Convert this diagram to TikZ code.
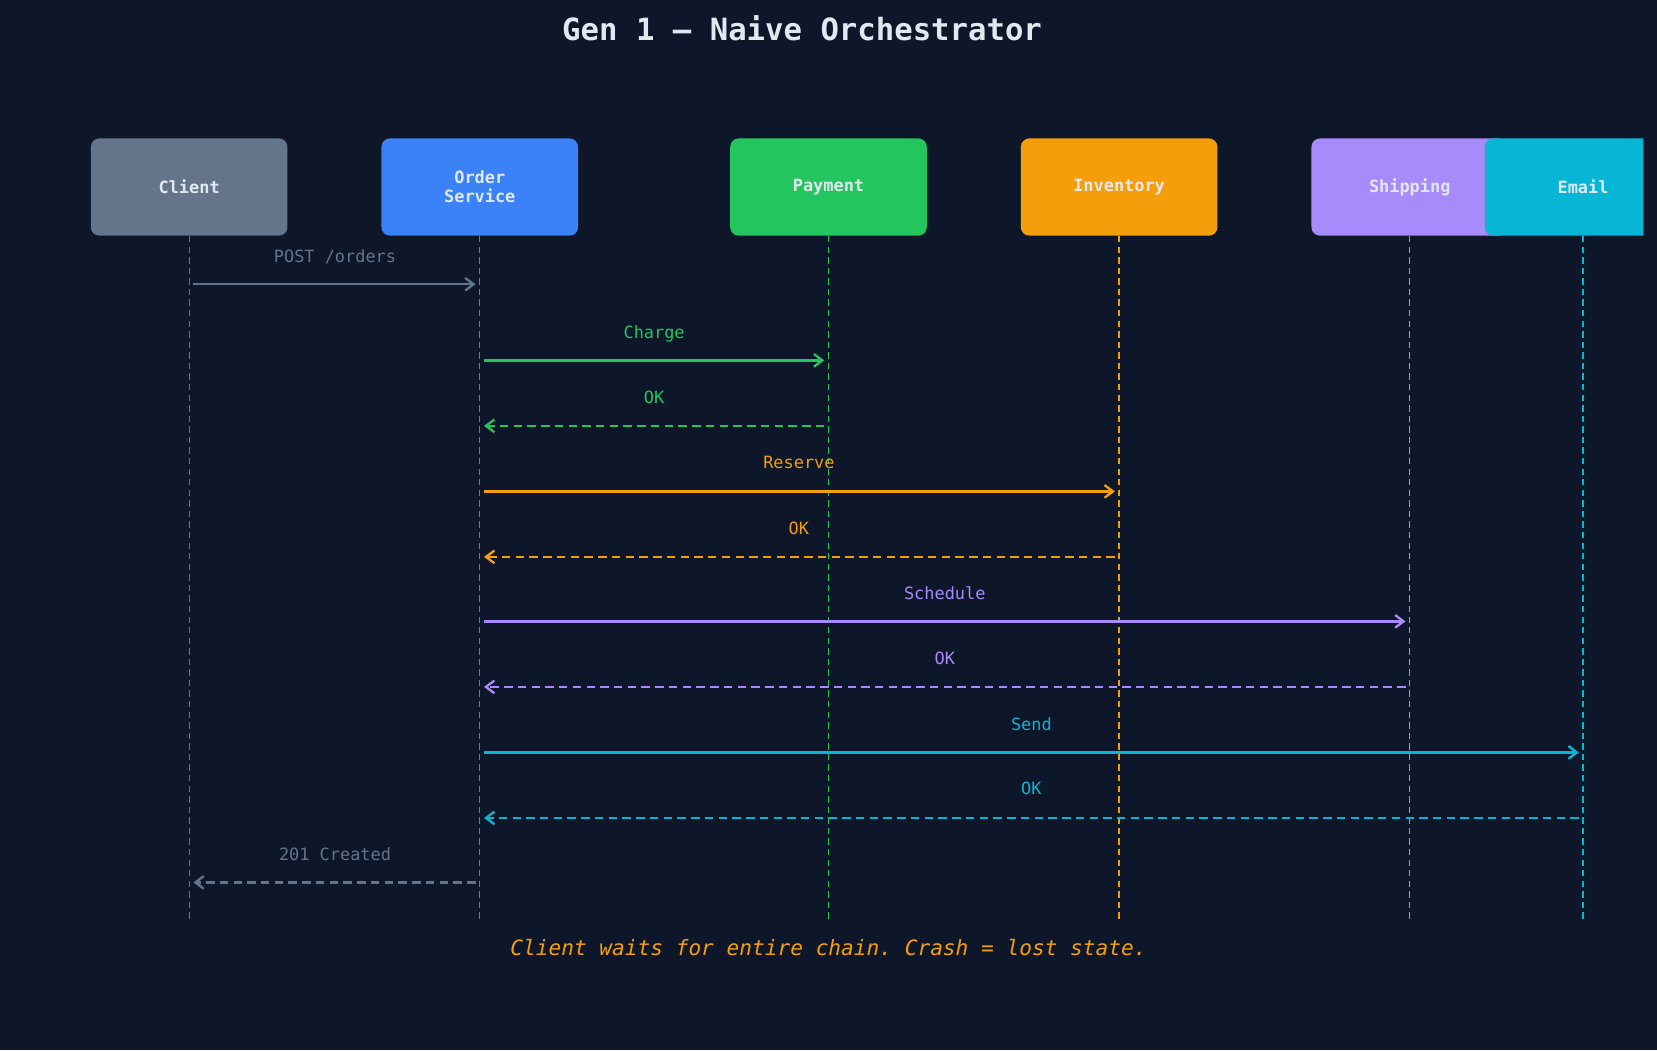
\documentclass[tikz,border=0pt]{standalone}
\usepackage{fontspec}
\setmonofont{DejaVu Sans Mono}
\usetikzlibrary{arrows.meta}
\definecolor{bg}{HTML}{0E1629}
\definecolor{cgray}{HTML}{64748B}
\definecolor{cblue}{HTML}{3B82F6}
\definecolor{cgreen}{HTML}{22C55E}
\definecolor{corange}{HTML}{F59E0B}
\definecolor{cpurple}{HTML}{A78BFA}
\definecolor{ccyan}{HTML}{06B6D4}
\definecolor{ctext}{HTML}{E2E8F0}
\begin{document}
\begin{tikzpicture}[x=0.5pt,y=-0.5pt,
  box/.style={rounded corners=4pt,minimum width=93pt,minimum height=46pt,inner sep=0pt,text=ctext,font=\ttfamily\bfseries\fontsize{8}{9}\selectfont,align=center},
  life/.style={dashed,line width=0.6pt,dash pattern=on 3pt off 2pt},
  msg/.style={line width=1.1pt,-{Straight Barb[length=4pt,width=6pt]}},
  ret/.style={msg,dash pattern=on 4pt off 2.5pt},
  lab/.style={font=\ttfamily\fontsize{8}{9}\selectfont,anchor=base}]
\useasboundingbox (0,0) rectangle (1568,994);
\fill[bg] (0,0) rectangle (1568,994);
\node[font=\ttfamily\bfseries\fontsize{14.5}{16}\selectfont,text=ctext] (title) at (759,27) {Gen 1 — Naive Orchestrator};
\node[box,fill=cgray] (client) at (179,177) {Client};
\node[box,fill=cblue] (order) at (454,177) {Order\\Service};
\node[box,fill=cgreen] (pay) at (784,177) {Payment};
\node[box,fill=corange] (inv) at (1059,177) {Inventory};
\node[box,fill=cpurple] (ship) at (1334,177) {Shipping};
\begin{scope}
\clip (0,0) rectangle (1555,994);
\node[box,fill=ccyan] (email) at (1498,177) {Email};
\end{scope}
\foreach \n/\x/\c in {client/179/cgray,order/454/cblue,pay/784/cgreen,inv/1059/corange,ship/1334/cpurple,email/1498/ccyan}{
  \coordinate (\n e) at (\x,873);
  \draw[life,\c] (\n.south) -- (\n e);
}
\foreach \a/\b/\y/\st/\c in {
 client/order/269/msg/cgray,
 order/pay/341/msg/cgreen,
 pay/order/403/ret/cgreen,
 order/inv/465/msg/corange,
 inv/order/527/ret/corange,
 order/ship/588/msg/cpurple,
 ship/order/650/ret/cpurple,
 order/email/712/msg/ccyan,
 email/order/774/ret/ccyan,
 order/client/835/ret/cgray}{
  \coordinate (s) at (\a.south |- 0,\y);
  \coordinate (t) at (\b.south |- 0,\y);
  \draw[\st,\c,shorten <=2pt,shorten >=2pt] (s) -- (t);
}
\foreach \x/\y/\c/\t in {317/248/cgray/{POST /orders},619/320/cgreen/Charge,619/382/cgreen/OK,756/443/corange/Reserve,756/506/corange/OK,894/567/cpurple/Schedule,894/629/cpurple/OK,976/691/ccyan/Send,976/752/ccyan/OK,317/814/cgray/{201 Created}}
  \node[lab,text=\c] at (\x,\y) {\t};
\node[font=\ttfamily\itshape\fontsize{10}{12}\selectfont,text=corange] (note) at (784,897) {Client waits for entire chain. Crash = lost state.};
\end{tikzpicture}
\end{document}
